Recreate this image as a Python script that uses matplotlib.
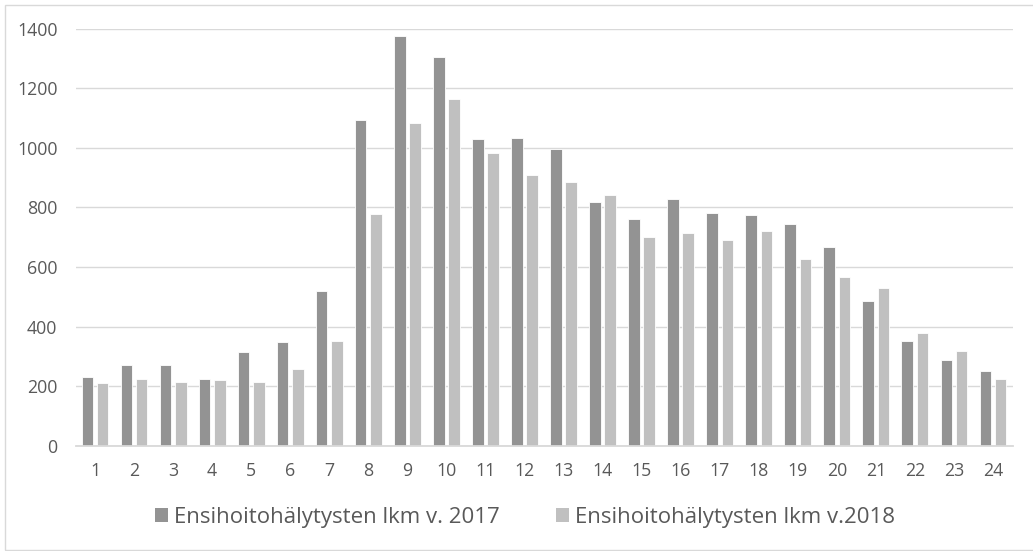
import matplotlib
matplotlib.use("Agg")
import matplotlib.pyplot as plt
from matplotlib.patches import Patch, Rectangle
import numpy as np

hours = [str(h) for h in range(1, 25)]
alerts_2017 = [230, 270, 270, 224, 315, 349, 519, 1092, 1377, 1305, 1031, 1034,
               995, 818, 762, 828, 781, 776, 744, 666, 485, 352, 288, 251]
alerts_2018 = [211, 224, 213, 221, 214, 257, 352, 778, 1083, 1164, 983, 908,
               886, 843, 702, 714, 690, 722, 626, 565, 528, 377, 318, 224]
series_names = ["Ensihoitohälytysten lkm v. 2017", "Ensihoitohälytysten lkm v.2018"]
y_ticks = [0, 200, 400, 600, 800, 1000, 1200, 1400]

dark = "#939393"
light = "#c0c0c0"
grid = "#d9d9d9"
text_col = "#595959"

plt.rcParams["font.family"] = ["Open Sans", "DejaVu Sans"]

W, H = 1033, 551
fig = plt.figure(figsize=(W / 100, H / 100), dpi=100)

# plot area in pixel coordinates
left, right, top, bottom = 75.5, 1012.5, 28.7, 445.8
ax = fig.add_axes([left / W, 1 - bottom / H, (right - left) / W, (bottom - top) / H])

x = np.arange(len(hours))
bw = 0.297
off = 0.195
ax.bar(x - off, alerts_2017, width=bw, color=dark, edgecolor="white", linewidth=0.6, zorder=3)
ax.bar(x + off, alerts_2018, width=bw, color=light, edgecolor="white", linewidth=0.6, zorder=3)

ax.set_xlim(-0.5, len(hours) - 0.5)
ax.set_ylim(0, 1400)
ax.set_yticks(y_ticks)
ax.set_yticklabels([str(v) for v in y_ticks])
ax.set_xticks(x)
ax.set_xticklabels(hours)
ax.yaxis.grid(True, color=grid, linewidth=1.0, zorder=0)
ax.set_axisbelow(True)
for s in ["left", "right", "top"]:
    ax.spines[s].set_visible(False)
ax.spines["bottom"].set_color(grid)
ax.spines["bottom"].set_linewidth(1.3)
ax.spines["bottom"].set_zorder(4)
ax.tick_params(axis="both", length=0, labelsize=12.8, labelcolor=text_col)
ax.tick_params(axis="y", pad=13.0)
ax.tick_params(axis="x", pad=12.0)

handles = [Patch(facecolor=dark, edgecolor="none"), Patch(facecolor=light, edgecolor="none")]
leg = fig.legend(handles, series_names, ncol=2, loc="center",
                 bbox_to_anchor=(525 / W, 1 - 517 / H), frameon=False,
                 fontsize=16, handlelength=0.61, handleheight=0.61,
                 handletextpad=0.27, columnspacing=2.5, borderpad=0)
for t in leg.get_texts():
    t.set_color(text_col)

# outer chart border
fig.patches.append(Rectangle((5 / W, 1 - 550 / H), 1.2, (550 - 5.3) / H,
                             transform=fig.transFigure, fill=False,
                             edgecolor=grid, linewidth=1.0))

fig.savefig("out.png", dpi=100)
